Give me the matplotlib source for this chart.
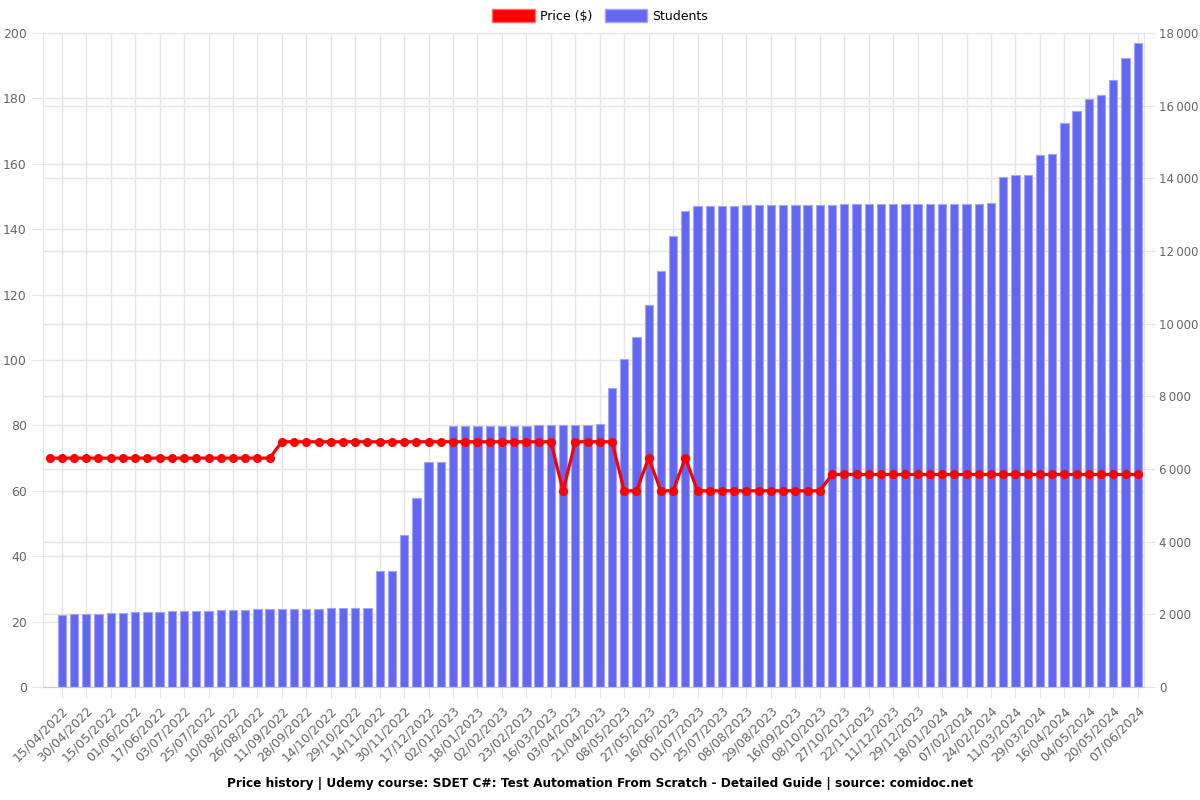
import numpy as np
import matplotlib
matplotlib.use("Agg")
import matplotlib.pyplot as plt
from matplotlib.patches import Patch
from matplotlib.ticker import FixedLocator, FuncFormatter

# one entry per snapshot (90), labels shown on every second one
price = [70] * 19 + [75] * 23 + [60] + [75] * 4 + [60, 60, 70, 60, 60, 70] + [60] * 11 + [65] * 26

students = [np.nan,
            1990, 2000, 2010, 2020, 2035, 2045, 2060, 2070, 2075, 2085, 2090, 2095, 2100,
            2110, 2120, 2125, 2135, 2140, 2145, 2150, 2155, 2160, 2165, 2165, 2170, 2170,
            3180, 3180, 4180, 5190, 6190, 6190,
            7180, 7185, 7185, 7190, 7190, 7195, 7195, 7200, 7200, 7205, 7205, 7210,
            7240, 8220, 9020, 9630, 10520, 11460, 12400, 13110,
            13240, 13245, 13250, 13250, 13255, 13260, 13265, 13265, 13270, 13270, 13275,
            13275, 13280, 13280, 13285, 13285, 13290, 13290, 13295, 13295, 13300, 13300,
            13305, 13305, 13310,
            14030, 14080, 14100, 14650, 14670, 15510, 15860, 16190, 16280, 16720, 17320, 17720]

tick_labels = ["15/04/2022", "30/04/2022", "15/05/2022", "01/06/2022", "17/06/2022",
               "03/07/2022", "25/07/2022", "10/08/2022", "26/08/2022", "11/09/2022",
               "28/09/2022", "14/10/2022", "29/10/2022", "14/11/2022", "30/11/2022",
               "17/12/2022", "02/01/2023", "18/01/2023", "02/02/2023", "23/02/2023",
               "16/03/2023", "03/04/2023", "21/04/2023", "08/05/2023", "27/05/2023",
               "16/06/2023", "01/07/2023", "25/07/2023", "08/08/2023", "29/08/2023",
               "16/09/2023", "08/10/2023", "27/10/2023", "22/11/2023", "11/12/2023",
               "29/12/2023", "18/01/2024", "07/02/2024", "24/02/2024", "11/03/2024",
               "29/03/2024", "16/04/2024", "04/05/2024", "20/05/2024", "07/06/2024"]

grid_c = "#e5e5e5"
txt_c = "#666666"
x = np.arange(len(price))

fig = plt.figure(figsize=(12, 8), dpi=100)
ax = fig.add_axes([0.0362, 0.14125, 0.9170, 0.8175])
ax2 = ax.twinx()

# students bars (right axis), drawn underneath
ax.bar(x, students, width=0.68, color="#6366f1", edgecolor="#a3a5f6", linewidth=0.8, zorder=2)
ax.set_xlim(-0.5, len(price) - 0.5)
ax.set_ylim(0, 18000)
ax.yaxis.set_major_locator(FixedLocator(np.arange(0, 18001, 2000)))
ax.yaxis.set_major_formatter(FuncFormatter(lambda v, p: f"{int(v):,}".replace(",", "\u2009")))
# price gridlines (0..200 step 20) sit at student value * 90
ax.yaxis.set_minor_locator(FixedLocator(np.arange(0, 18001, 1800)))
ax.grid(True, which="both", axis="y", color=grid_c, lw=1, zorder=0)
ax.grid(True, axis="x", color=grid_c, lw=1, zorder=0)
ax.set_axisbelow(True)
ax.tick_params(axis="y", which="major", colors=txt_c, labelsize=8.5, length=8, color=grid_c, pad=3,
               left=False, labelleft=False, right=True, labelright=True)
ax.tick_params(axis="y", which="minor", length=0)

ax.set_xticks(x[1::2])
ax.set_xticklabels(tick_labels, rotation=45, ha="right", rotation_mode="anchor")
ax.tick_params(axis="x", colors=txt_c, labelsize=9, length=8, color=grid_c, pad=4)
for s in ax.spines.values():
    s.set_color(grid_c)
ax.spines["bottom"].set_color("#c8c8c8")

# price line (left axis), drawn on top
ax2.plot(x, price, color="#ff0000", lw=2.3, marker="o", ms=5.5, zorder=3)
ax2.set_ylim(0, 200)
ax2.set_yticks(np.arange(0, 201, 20))
ax2.tick_params(axis="y", colors=txt_c, labelsize=9, length=8, color=grid_c, pad=4,
                left=True, labelleft=True, right=False, labelright=False)
for s in ax2.spines.values():
    s.set_visible(False)

handles = [Patch(facecolor="#ff0000", edgecolor="#ff6a6a", lw=1),
           Patch(facecolor="#6366f1", edgecolor="#a3a5f6", lw=1)]
fig.legend(handles, ["Price ($)", "Students"], loc="center", bbox_to_anchor=(0.5, 0.98),
           ncol=2, frameon=False, fontsize=9, handlelength=3.4, handleheight=1.25,
           columnspacing=1.0, handletextpad=0.4)

fig.text(0.5, 0.021, "Price history | Udemy course: SDET C#: Test Automation From Scratch - Detailed Guide | source: comidoc.net",
         ha="center", va="center", fontsize=8.7, fontweight="bold")

fig.savefig("out.png", dpi=100)
